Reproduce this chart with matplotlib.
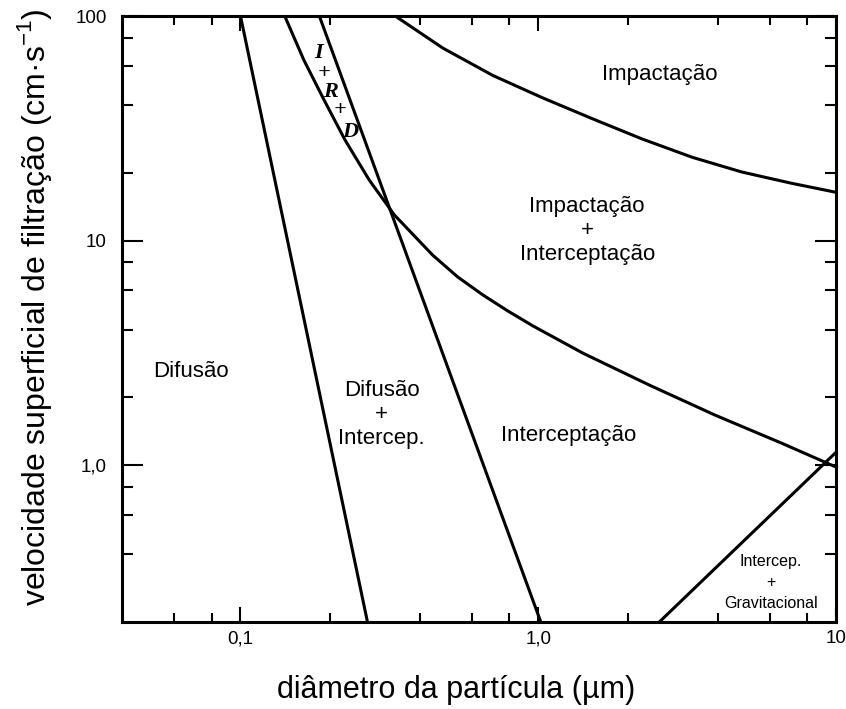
import matplotlib
matplotlib.use("Agg")
import matplotlib.pyplot as plt
from matplotlib.ticker import FixedLocator, FixedFormatter, NullFormatter

plt.rcParams['font.family'] = ['Liberation Sans', 'DejaVu Sans']
plt.rcParams['mathtext.fontset'] = 'custom'
plt.rcParams['mathtext.rm'] = 'Liberation Sans'

# region boundaries (particle diameter in um, filtration velocity in cm/s)
diff_x = [0.1, 0.267]
diff_y = [100, 0.2]

ird_right_x = [0.184, 1.02]
ird_right_y = [100, 0.2]

ird_left_x = [0.1408, 0.1632, 0.1908, 0.2246, 0.2706, 0.3287, 0.4417, 0.5366, 0.6521,
              0.7918, 0.9619, 1.413, 2.363, 3.921, 6.556, 10]
ird_left_y = [100, 63.7, 42.3, 28.0, 18.6, 13.0, 8.62, 6.88, 5.72,
              4.85, 4.16, 3.15, 2.27, 1.67, 1.253, 0.98]

impact_x = [0.331, 0.478, 0.705, 1.039, 1.526, 2.239, 3.286, 4.823, 7.08, 10]
impact_y = [100, 72.0, 54.3, 43.1, 34.8, 28.3, 23.5, 20.2, 18.0, 16.4]

grav_x = [2.55, 10]
grav_y = [0.2, 1.14]

x_ticks = [0.1, 1, 10]
x_labels = ['0,1', '1,0', '10']
y_ticks = [1, 10, 100]
y_labels = ['1,0', '10', '100']
x_minor = [0.06, 0.08, 0.2, 0.4, 0.6, 0.8, 2, 4, 6, 8]
y_minor = [0.4, 0.6, 0.8, 2, 4, 6, 8, 20, 40, 60, 80]

fig = plt.figure(figsize=(8.46, 7.09), dpi=100)
ax = fig.add_axes([0.1442, 0.1227, 0.8440, 0.8547])
ax.set_xscale('log')
ax.set_yscale('log')
ax.set_xlim(0.04, 10)
ax.set_ylim(0.2, 100)

lw = 2.2
for xs, ys in [(diff_x, diff_y), (ird_right_x, ird_right_y), (ird_left_x, ird_left_y),
               (impact_x, impact_y), (grav_x, grav_y)]:
    ax.plot(xs, ys, color='black', lw=lw, solid_capstyle='butt', solid_joinstyle='round')

# axes frame and ticks
for s in ax.spines.values():
    s.set_linewidth(2.2)
ax.xaxis.set_major_locator(FixedLocator(x_ticks))
ax.xaxis.set_major_formatter(FixedFormatter(x_labels))
ax.xaxis.set_minor_locator(FixedLocator(x_minor))
ax.xaxis.set_minor_formatter(NullFormatter())
ax.yaxis.set_major_locator(FixedLocator(y_ticks))
ax.yaxis.set_major_formatter(FixedFormatter(y_labels))
ax.yaxis.set_minor_locator(FixedLocator(y_minor))
ax.yaxis.set_minor_formatter(NullFormatter())

ax.tick_params(axis='both', which='both', direction='in', top=True, right=True, width=1.5)
ax.tick_params(axis='x', which='major', length=11, pad=6, labelsize=13.5)
ax.tick_params(axis='x', which='minor', length=6.5)
ax.tick_params(axis='y', which='major', length=15, pad=11, labelsize=13.5)
ax.tick_params(axis='y', which='minor', length=8)

ax.set_xlabel('diâmetro da partícula (µm)', fontsize=22, va='center')
ax.xaxis.set_label_coords(0.468, -0.112)
ax.set_ylabel('velocidade superficial de filtração (cm·s$^{-1}$)', fontsize=23, va='center')
ax.yaxis.set_label_coords(-0.122, 0.52)

# region names
txt = dict(ha='center', va='center', fontsize=16, linespacing=1.2)
ax.text(2.55, 55, 'Impactação', **txt)
ax.text(1.46, 11.1, 'Impactação\n+\nInterceptação', **txt)
ax.text(0.068, 2.6, 'Difusão', **txt)
ax.text(0.298, 1.68, 'Difusão\n+\nIntercep.', **txt)
ax.text(1.26, 1.35, 'Interceptação', **txt)
ax.text(6.05, 0.3, 'Intercep.\n+\nGravitacional', ha='center', va='center',
        fontsize=11.5, linespacing=1.5)

# I + R + D stacked along the narrow band
serif = dict(ha='center', va='center', fontsize=16, family='Liberation Serif',
             style='italic', fontweight='bold')
for ch, px, py in [('I', 0.183, 68.2), ('+', 0.190, 55.6), ('R', 0.200, 46.0),
                   ('+', 0.2166, 38.1), ('D', 0.234, 30.5)]:
    ax.text(px, py, ch, **serif)

fig.savefig('out.png', dpi=100)
